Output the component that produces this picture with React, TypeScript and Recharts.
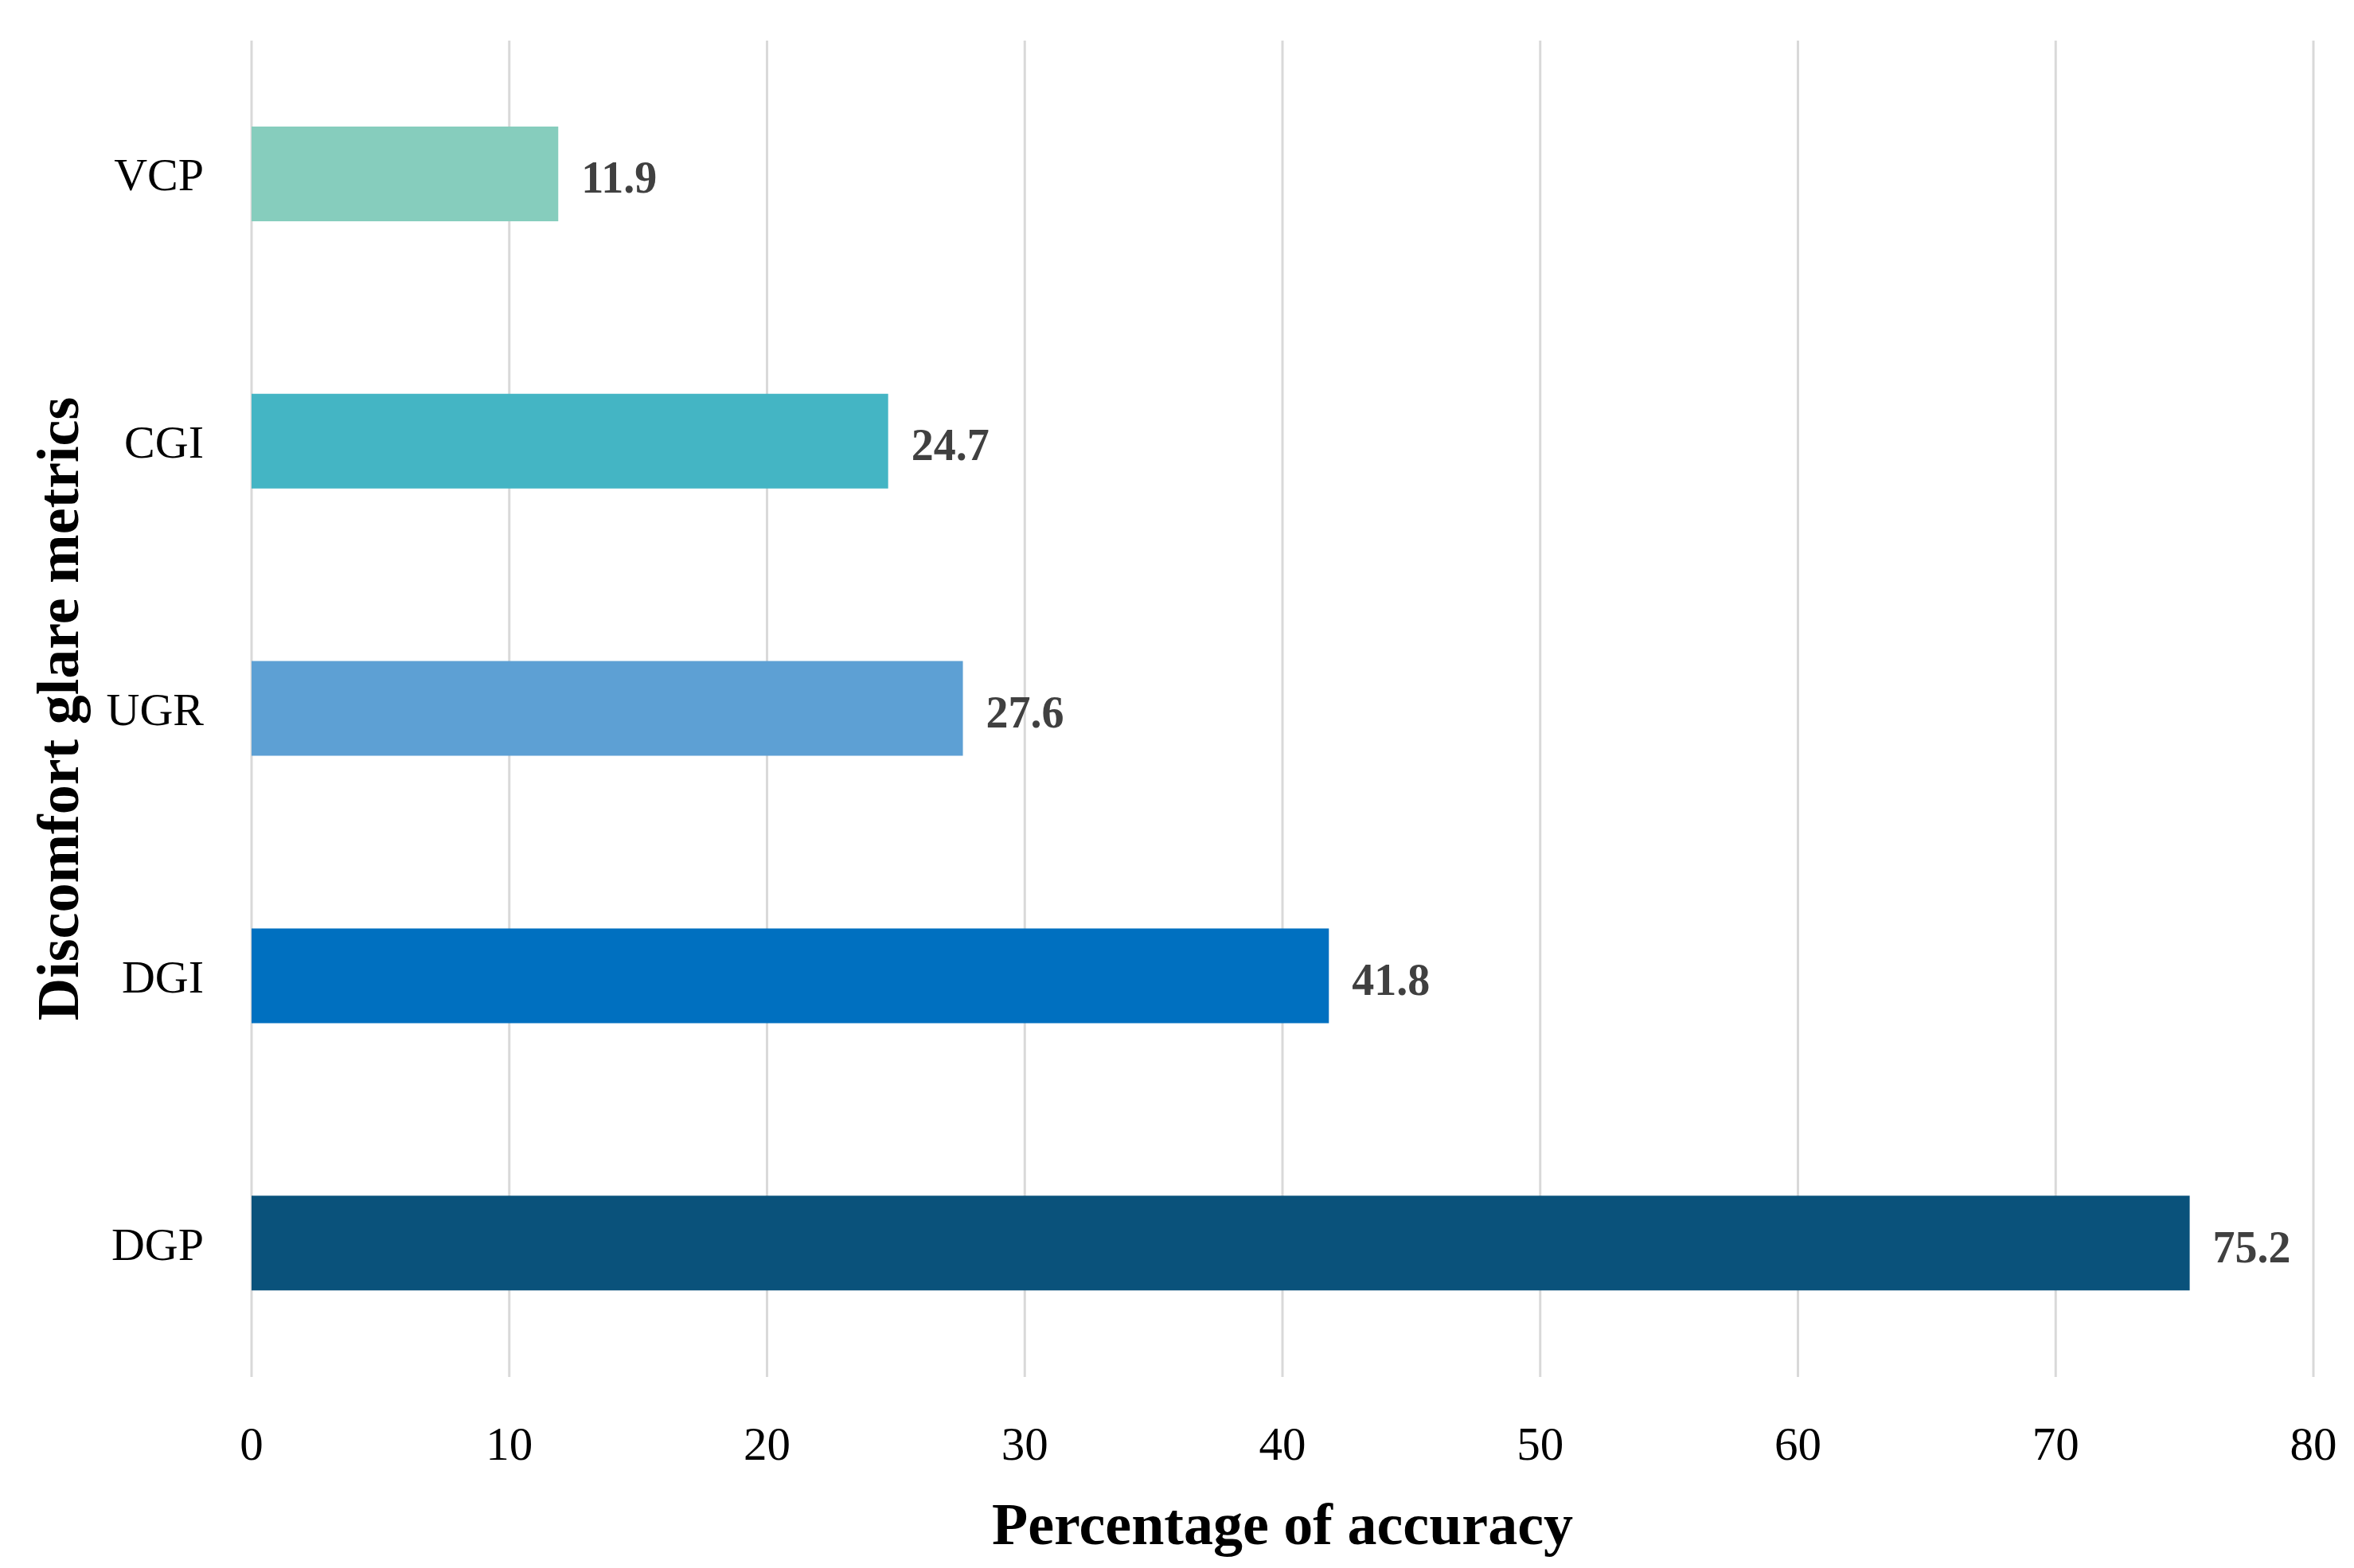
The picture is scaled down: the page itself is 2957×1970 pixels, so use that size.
import React from "react";
import {
  BarChart,
  Bar,
  XAxis,
  YAxis,
  CartesianGrid,
  LabelList,
  Cell,
  Label,
} from "recharts";

const metrics = ["VCP", "CGI", "UGR", "DGI", "DGP"];
const accuracy = [11.9, 24.7, 27.6, 41.8, 75.2];
const barColors = ["#86CDBD", "#44B5C4", "#5DA0D4", "#0070C0", "#0A527B"];
const xTicks = [0, 10, 20, 30, 40, 50, 60, 70, 80];

const data = metrics.map((name, i) => ({ name, value: accuracy[i] }));

const FONT = '"Liberation Serif", "Times New Roman", serif';

export default function App() {
  return (
    <div style={{ width: 2957, height: 1970, background: "#fff" }}>
      <style>{`body{margin:0;background:#fff}`}</style>
      <BarChart
        width={2957}
        height={1970}
        data={data}
        layout="vertical"
        margin={{ top: 51, right: 51, bottom: 0, left: 0 }}
        barCategoryGap={0}
      >
        <CartesianGrid
          horizontal={false}
          stroke="#D9D9D9"
          strokeWidth={3}
        />
        <XAxis
          type="number"
          domain={[0, 80]}
          ticks={xTicks}
          interval={0}
          axisLine={false}
          tickLine={false}
          tickSize={0}
          tickMargin={62}
          height={240}
          tick={{ fontFamily: FONT, fontSize: 59, fill: "#000" }}
        >
          <Label
            value="Percentage of accuracy"
            position="insideBottom"
            offset={30}
            style={{
              fontFamily: FONT,
              fontSize: 74,
              fontWeight: "bold",
              fill: "#000",
            }}
          />
        </XAxis>
        <YAxis
          type="category"
          dataKey="name"
          width={316}
          axisLine={false}
          tickLine={false}
          tickSize={0}
          tickMargin={60}
          tick={{ fontFamily: FONT, fontSize: 58, fill: "#000" }}
        >
          <Label
            value="Discomfort glare metrics"
            angle={-90}
            position="insideLeft"
            offset={72}
            style={{
              fontFamily: FONT,
              fontSize: 74,
              fontWeight: "bold",
              fill: "#000",
              textAnchor: "middle",
            }}
          />
        </YAxis>
        <Bar dataKey="value" barSize={119} isAnimationActive={false}>
          {data.map((d, i) => (
            <Cell key={d.name} fill={barColors[i]} />
          ))}
          <LabelList
            dataKey="value"
            position="right"
            offset={29}
            formatter={(v: number) => v.toFixed(1)}
            style={{
              fontFamily: FONT,
              fontSize: 56,
              fontWeight: "bold",
              fill: "#404040",
              transform: "translateY(4px)",
            }}
          />
        </Bar>
      </BarChart>
    </div>
  );
}
